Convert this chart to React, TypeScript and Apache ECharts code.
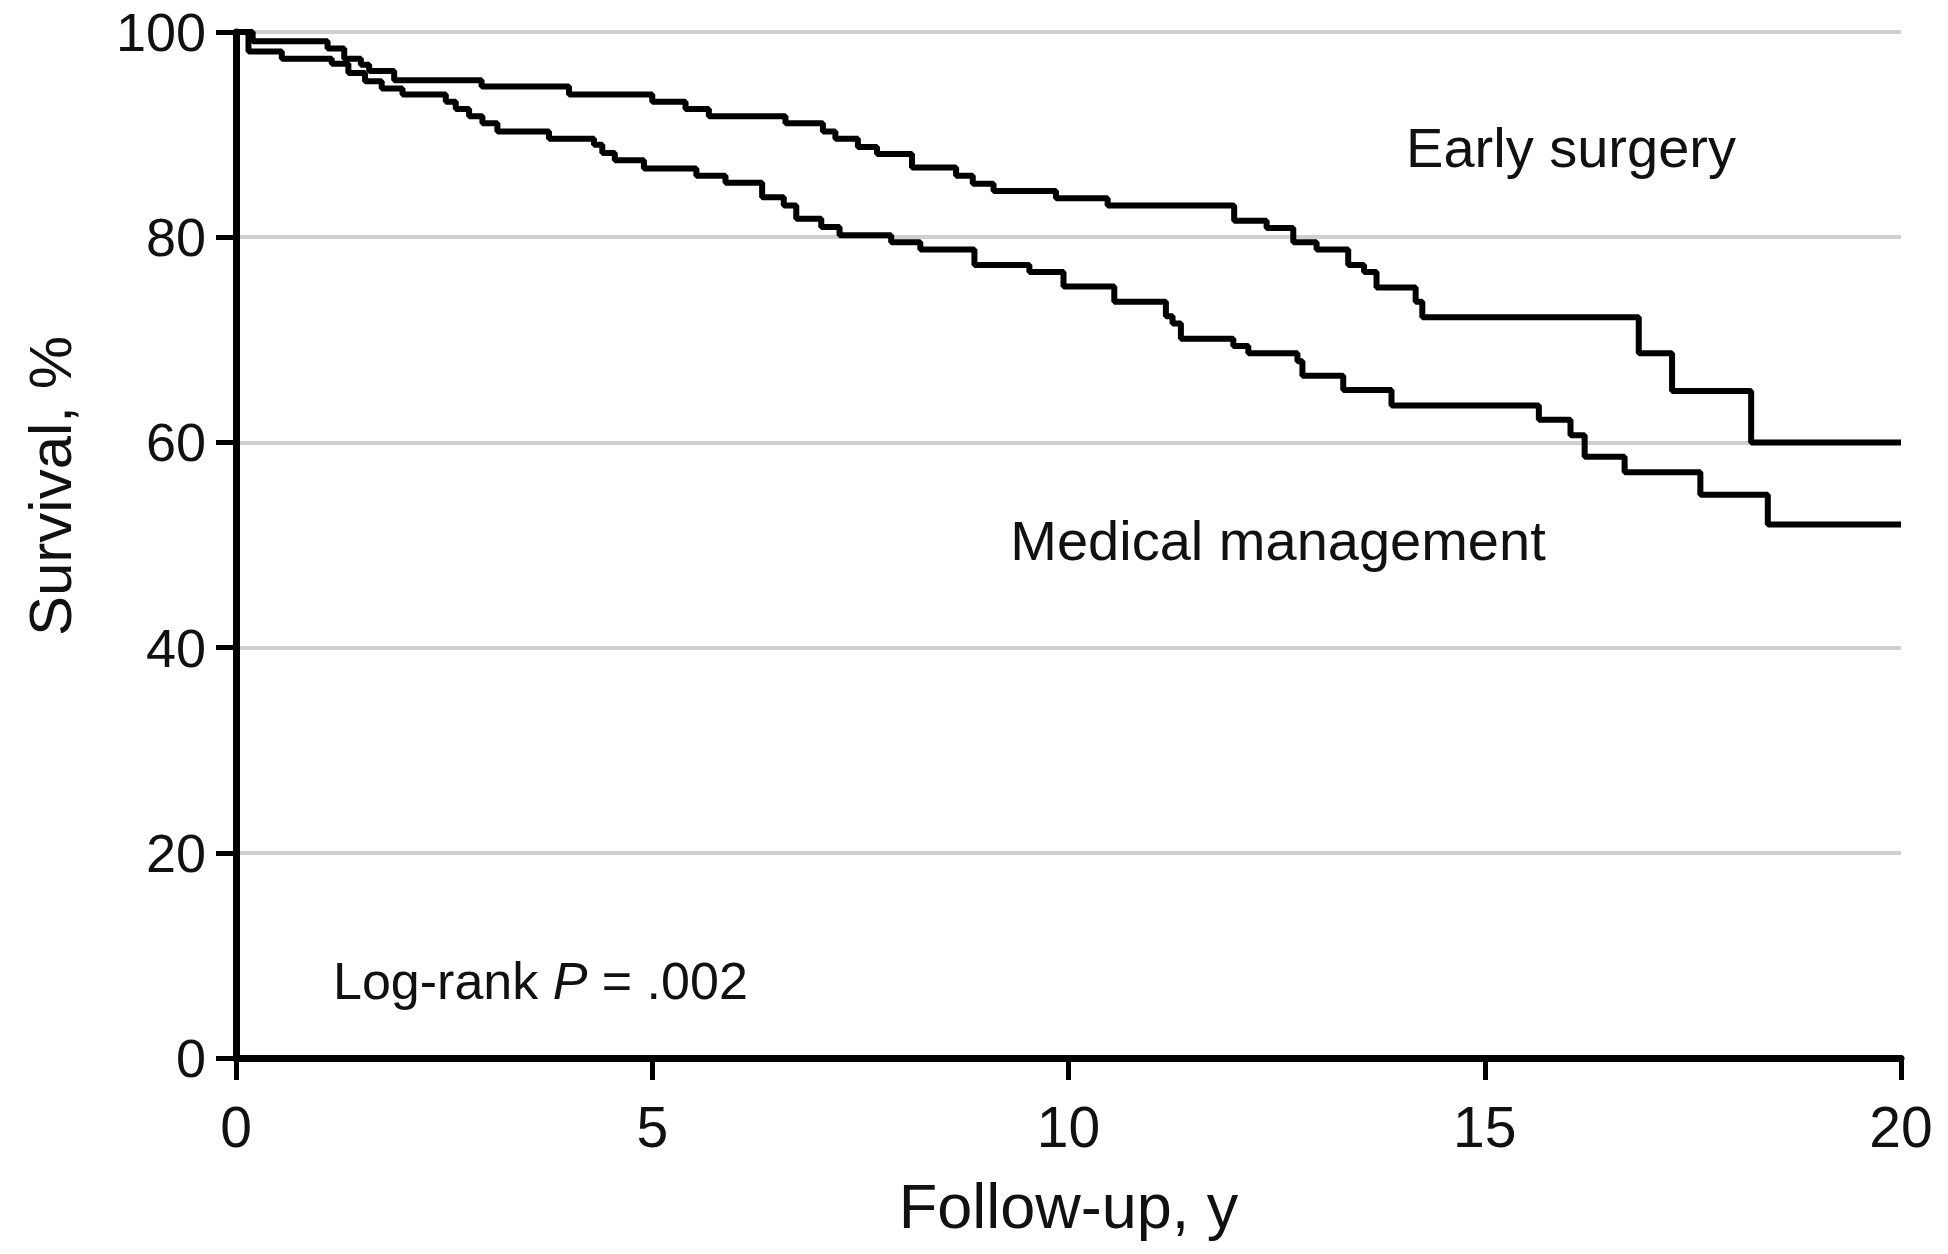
import React, { useEffect, useRef } from "react";
import * as echarts from "echarts";

// Kaplan-Meier step points: [follow-up years, survival % after the step]
const earlySurgeryTimes = [0, 0.2, 1.1, 1.3, 1.5, 1.6, 1.9, 2.95, 4.0, 5.0, 5.4, 5.68, 6.6, 7.05, 7.2, 7.47, 7.7, 8.12, 8.65, 8.85, 9.1, 9.85, 10.47, 11.99, 12.38, 12.7, 12.98, 13.36, 13.55, 13.7, 14.17, 14.25, 16.85, 17.25, 18.2, 20];
const earlySurgerySurvival = [100, 99.1, 98.4, 97.4, 96.8, 96.2, 95.3, 94.7, 93.9, 93.2, 92.5, 91.8, 91.1, 90.3, 89.6, 88.8, 88.1, 86.8, 86.0, 85.2, 84.5, 83.8, 83.1, 81.6, 80.9, 79.5, 78.8, 77.3, 76.6, 75.1, 73.7, 72.2, 68.7, 65.0, 60.0, 60.0];

const medicalTimes = [0, 0.15, 0.55, 1.15, 1.35, 1.55, 1.75, 2.0, 2.52, 2.64, 2.8, 2.96, 3.14, 3.76, 4.3, 4.4, 4.55, 4.9, 5.53, 5.88, 6.32, 6.58, 6.73, 7.03, 7.25, 7.87, 8.22, 8.87, 9.53, 9.94, 10.55, 11.17, 11.25, 11.35, 11.98, 12.16, 12.75, 12.81, 13.3, 13.88, 15.65, 16.03, 16.2, 16.68, 17.59, 18.4, 20];
const medicalSurvival = [100, 98.1, 97.4, 96.9, 96.0, 95.2, 94.5, 93.9, 93.2, 92.5, 91.8, 91.1, 90.3, 89.6, 89.0, 88.2, 87.5, 86.7, 86.0, 85.3, 83.9, 83.1, 81.8, 81.0, 80.2, 79.5, 78.8, 77.3, 76.6, 75.2, 73.7, 72.3, 71.6, 70.1, 69.4, 68.7, 67.9, 66.5, 65.1, 63.6, 62.2, 60.7, 58.6, 57.1, 54.9, 52.0, 52.0];

const xTicks = [0, 5, 10, 15, 20];
const yTicks = [0, 20, 40, 60, 80, 100];

const seriesNames = ["Early surgery", "Medical management"];
const xAxisTitle = "Follow-up, y";
const yAxisTitle = "Survival, %";
const pValueText = ["Log-rank ", "P", " = .002"];

const FONT = "'Liberation Sans', Arial, sans-serif";

export default function App() {
  const ref = useRef<HTMLDivElement>(null);

  useEffect(() => {
    document.body.style.margin = "0";
    if (!ref.current) return;
    const chart = echarts.init(ref.current, null, { renderer: "svg" });

    const early = earlySurgeryTimes.map((t, i) => [t, earlySurgerySurvival[i]]);
    const medical = medicalTimes.map((t, i) => [t, medicalSurvival[i]]);

    chart.setOption({
      animation: false,
      backgroundColor: "#ffffff",
      textStyle: { fontFamily: FONT },
      grid: { left: 236, right: 47, top: 32, bottom: 196, containLabel: false },
      xAxis: {
        type: "value",
        min: xTicks[0],
        max: xTicks[xTicks.length - 1],
        interval: 5,
        name: xAxisTitle,
        nameLocation: "middle",
        nameGap: 116,
        nameTextStyle: { fontSize: 63, color: "#111", fontFamily: FONT },
        axisLine: { show: true, onZero: false, lineStyle: { color: "#000", width: 7 } },
        axisTick: { show: true, length: 22, lineStyle: { color: "#000", width: 5 } },
        axisLabel: { fontSize: 57, color: "#111", margin: 40, fontFamily: FONT },
        splitLine: { show: false },
      },
      yAxis: {
        type: "value",
        min: yTicks[0],
        max: yTicks[yTicks.length - 1],
        interval: 20,
        axisLine: { show: true, onZero: false, lineStyle: { color: "#000", width: 7 } },
        axisTick: { show: true, length: 20, lineStyle: { color: "#000", width: 5 } },
        axisLabel: { fontSize: 54, lineHeight: 44, color: "#111", margin: 30, fontFamily: FONT },
        splitLine: { show: true, lineStyle: { color: "#cfcfcf", width: 4 } },
      },
      graphic: [
        {
          type: "text",
          x: 50,
          y: 486,
          rotation: Math.PI / 2,
          style: {
            text: yAxisTitle,
            fontSize: 60,
            fontFamily: FONT,
            fill: "#111",
            align: "center",
            verticalAlign: "middle",
          },
        },
        {
          type: "text",
          x: 1571,
          y: 147,
          style: {
            text: seriesNames[0],
            fontSize: 56,
            fontFamily: FONT,
            fill: "#111",
            align: "center",
            verticalAlign: "middle",
          },
        },
        {
          type: "text",
          x: 1278,
          y: 540,
          style: {
            text: seriesNames[1],
            fontSize: 56,
            fontFamily: FONT,
            fill: "#111",
            align: "center",
            verticalAlign: "middle",
          },
        },
        {
          type: "text",
          x: 333,
          y: 981,
          style: {
            text: `{a|${pValueText[0]}}{i|${pValueText[1]}}{a|${pValueText[2]}}`,
            align: "left",
            verticalAlign: "middle",
            rich: {
              a: { fontSize: 52, fontFamily: FONT, fill: "#111", color: "#111" },
              i: { fontSize: 52, fontFamily: FONT, fontStyle: "italic", fill: "#111", color: "#111" },
            },
          },
        },
      ],
      series: [
        {
          name: seriesNames[0],
          type: "line",
          step: "end",
          data: early,
          showSymbol: false,
          symbol: "none",
          lineStyle: { color: "#000", width: 6 },
          z: 3,
        },
        {
          name: seriesNames[1],
          type: "line",
          step: "end",
          data: medical,
          showSymbol: false,
          symbol: "none",
          lineStyle: { color: "#000", width: 6 },
          z: 3,
        },
      ],
    });

    return () => chart.dispose();
  }, []);

  return <div ref={ref} style={{ width: 1948, height: 1254 }} />;
}
